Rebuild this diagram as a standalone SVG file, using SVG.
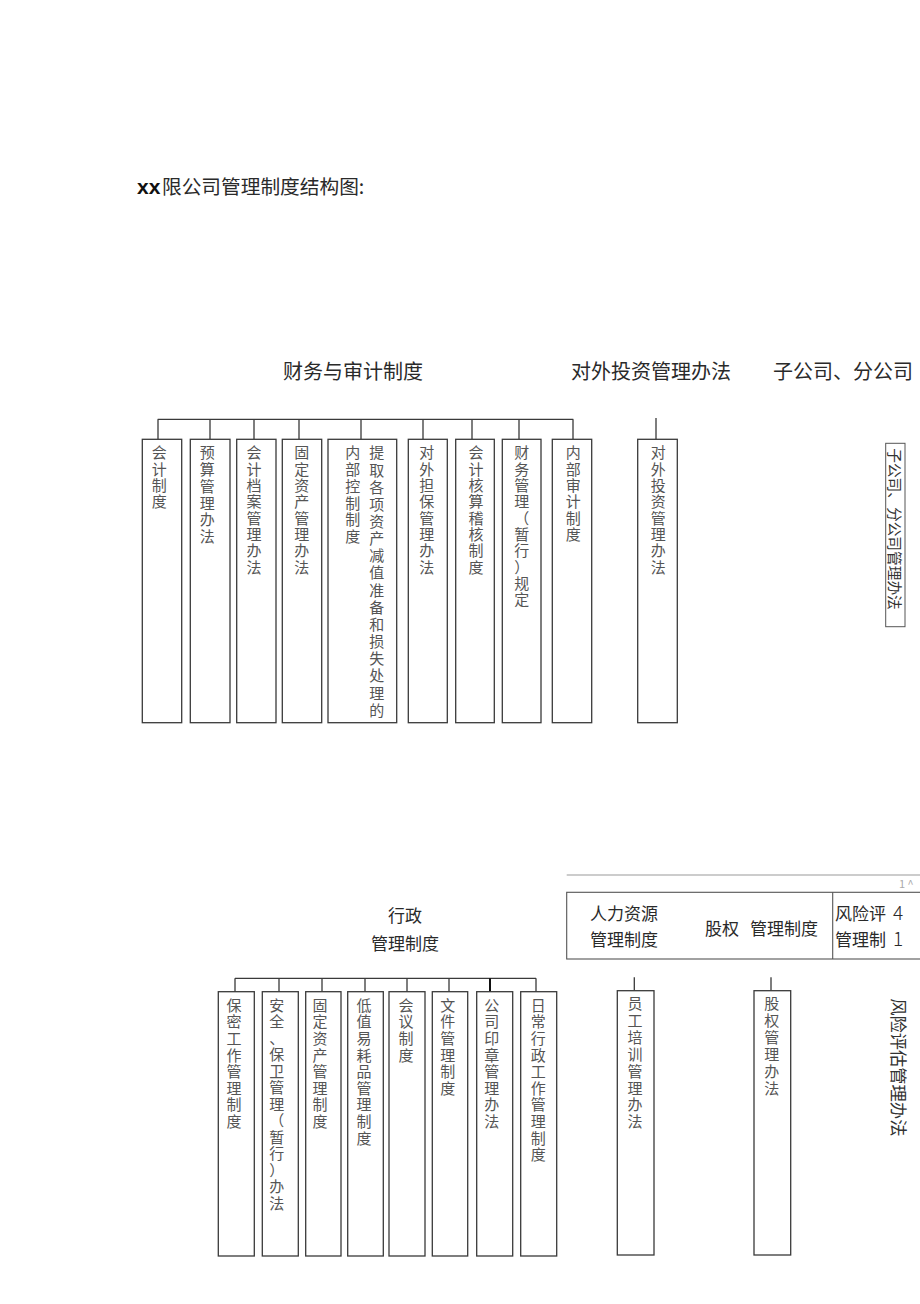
<svg xmlns="http://www.w3.org/2000/svg" width="920" height="1304" viewBox="0 0 920 1304">
<style>
text{font-family:"Noto Sans CJK SC","Liberation Sans",sans-serif;}
.h{font-size:20px;fill:#2a2a2a;}
.m{font-size:17px;fill:#2a2a2a;}
.c{font-size:15px;fill:#555;text-anchor:middle;}
.box{fill:#fff;stroke:#3a3a3a;stroke-width:1.3;}
.con{stroke:#3a3a3a;stroke-width:1.3;fill:none;}
</style>
<rect width="920" height="1304" fill="#fff"/>
<g id="title">
<text x="137" y="194" class="h"><tspan font-family="Liberation Sans" font-weight="bold" font-size="21" fill="#111">xx</tspan><tspan x="162" font-size="19.7">限公司管理制度结构图:</tspan></text>
</g>
<g id="connectors">
<path class="con" d="M157.7 419.3H573.3M158 419.3V439.3M210 419.3V439.3M254 419.3V439.3M299 419.3V439.3M361 419.3V439.3M423 419.3V439.3M472 419.3V439.3M519 419.3V439.3M573 419.3V439.3M656 418V439.3"/>
<path class="con" d="M235 978.3H536M235 978.3V991.7M279 978.3V991.7M322 978.3V991.7M365 978.3V991.7M407 978.3V991.7M449 978.3V991.7M536 978.3V991.7M634.3 977.3V990.7M771 977.3V990.7"/>
<path d="M490 978.3V991.7" stroke="#111" stroke-width="2" fill="none"/>
</g>
<g id="head-finance"><text class="h" x="283" y="379">财务与审计制度</text></g>
<g id="head-invest"><text class="h" x="571" y="379">对外投资管理办法</text></g>
<g id="head-sub"><text class="h" x="773" y="379">子公司、分公司</text></g>
<g id="n1"><rect class="box" x="142.3" y="439.3" width="39.4" height="283.4"/>
<text class="c" x="159.3 159.3 159.3 159.3" y="458.4 474.7 491 507.3">会计制度</text></g>
<g id="n2"><rect class="box" x="190.3" y="439.3" width="39.7" height="283.4"/>
<text class="c" x="207.3 207.3 207.3 207.3 207.3 207.3" y="458.4 475.1 491.8 508.5 525.2 541.9">预算管理办法</text></g>
<g id="n3"><rect class="box" x="236.7" y="439.3" width="39.3" height="283.4"/>
<text class="c" x="254 254 254 254 254 254 254 254" y="458.4 474.7 491 507.3 523.6 539.9 556.2 572.5">会计档案管理办法</text></g>
<g id="n4"><rect class="box" x="282.3" y="439.3" width="39.4" height="283.4"/>
<text class="c" x="301.7 301.7 301.7 301.7 301.7 301.7 301.7 301.7" y="458.4 474.7 491 507.3 523.6 539.9 556.2 572.5">固定资产管理办法</text></g>
<g id="n5"><rect class="box" x="328" y="439.3" width="68.7" height="283.4"/>
<text class="c" x="352.7 352.7 352.7 352.7 352.7 352.7" y="458.4 475.1 491.8 508.5 525.2 541.9">内部控制制度</text>
<text class="c" x="376.7 376.7 376.7 376.7 376.7 376.7 376.7 376.7 376.7 376.7 376.7 376.7 376.7 376.7 376.7 376.7" y="458.4 475.55 492.7 509.85 527 544.15 561.3 578.45 595.6 612.75 629.9 647.05 664.2 681.35 698.5 715.65">提取各项资产减值准备和损失处理的</text></g>
<g id="n6"><rect class="box" x="408.3" y="439.3" width="39" height="283.4"/>
<text class="c" x="426.7 426.7 426.7 426.7 426.7 426.7 426.7 426.7" y="458.4 474.7 491 507.3 523.6 539.9 556.2 572.5">对外担保管理办法</text></g>
<g id="n7"><rect class="box" x="455.7" y="439.3" width="38.6" height="283.4"/>
<text class="c" x="476 476 476 476 476 476 476 476" y="458.4 474.7 491 507.3 523.6 539.9 556.2 572.5">会计核算稽核制度</text></g>
<g id="n8"><rect class="box" x="502.3" y="439.3" width="38.7" height="283.4"/>
<text class="c" x="521.7 521.7 521.7 521.7 521.7 521.7 521.7 521.7 521.7 521.7" y="458.4 474.7 491 507.3 523.6 539.9 556.2 572.5 588.8 605.1">财务管理（暂行）规定</text></g>
<g id="n9"><rect class="box" x="552.3" y="439.3" width="39.4" height="283.4"/>
<text class="c" x="573.3 573.3 573.3 573.3 573.3 573.3" y="458.4 474.7 491 507.3 523.6 539.9">内部审计制度</text></g>
<g id="n10"><rect class="box" x="637.7" y="439.3" width="39.6" height="283.4"/>
<text class="c" x="658.3 658.3 658.3 658.3 658.3 658.3 658.3 658.3" y="458.4 474.7 491 507.3 523.6 539.9 556.2 572.5">对外投资管理办法</text></g>
<g id="n11"><rect x="885.7" y="443.3" width="19.3" height="183.4" fill="#fff" stroke="#555" stroke-width="1"/>
<text transform="translate(889.4,529) rotate(90)" text-anchor="middle" font-size="14.7" fill="#333">子公司、分公司管理办法</text></g>
<g id="header2">
<path d="M566.7 875H920" stroke="#999" stroke-width="1.2" fill="none"/>
<text x="899" y="888" font-size="11" fill="#aaa">1 ^</text>
<rect x="566.7" y="892.3" width="360" height="66.7" fill="#fff" stroke="#555" stroke-width="1.1"/>
<path d="M832.7 892.3V959" stroke="#555" stroke-width="1.1"/>
</g>
<g id="head-hr"><text class="m" x="590" y="919.8">人力资源</text><text class="m" x="590" y="945.5">管理制度</text></g>
<g id="head-equity"><text class="m" x="705" y="934.8">股权<tspan x="750">管理制度</tspan></text></g>
<g id="head-risk"><text class="m" x="835" y="919.8">风险评<tspan x="893" font-size="19" font-weight="300">4</tspan></text><text class="m" x="835" y="945.5">管理制<tspan x="893" font-size="19" font-weight="300">1</tspan></text></g>
<g id="head-admin"><text class="m" x="405" y="921.5" text-anchor="middle">行政</text><text class="m" x="405" y="949.8" text-anchor="middle">管理制度</text></g>
<g id="b1"><rect class="box" x="218.3" y="991.7" width="36" height="264.3"/>
<text class="c" x="234 234 234 234 234 234 234 234" y="1010.7 1027.3 1043.9 1060.5 1077.1 1093.7 1110.3 1126.9">保密工作管理制度</text></g>
<g id="b2"><rect class="box" x="262.3" y="991.7" width="36" height="264.3"/>
<text class="c" x="276.7 276.7 276.7 276.7 276.7 276.7 276.7 276.7 276.7 276.7 276.7 276.7 276.7" y="1010.7 1027.2 1043.7 1060.2 1076.7 1093.2 1109.7 1126.2 1142.7 1159.2 1175.7 1192.2 1208.7">安全、保卫管理（暂行）办法</text></g>
<g id="b3"><rect class="box" x="305.7" y="991.7" width="35.3" height="264.3"/>
<text class="c" x="320 320 320 320 320 320 320 320" y="1010.7 1027.3 1043.9 1060.5 1077.1 1093.7 1110.3 1126.9">固定资产管理制度</text></g>
<g id="b4"><rect class="box" x="347.7" y="991.7" width="35.6" height="264.3"/>
<text class="c" x="364 364 364 364 364 364 364 364 364" y="1010.7 1027.3 1043.9 1060.5 1077.1 1093.7 1110.3 1126.9 1143.5">低值易耗品管理制度</text></g>
<g id="b5"><rect class="box" x="389" y="991.7" width="36" height="264.3"/>
<text class="c" x="406 406 406 406" y="1010.7 1027.3 1043.9 1060.5">会议制度</text></g>
<g id="b6"><rect class="box" x="432.3" y="991.7" width="35.4" height="264.3"/>
<text class="c" x="447.7 447.7 447.7 447.7 447.7 447.7" y="1010.7 1027.3 1043.9 1060.5 1077.1 1093.7">文件管理制度</text></g>
<g id="b7"><rect class="box" x="476.7" y="991.7" width="36" height="264.3"/>
<text class="c" x="491.7 491.7 491.7 491.7 491.7 491.7 491.7 491.7" y="1010.7 1027.3 1043.9 1060.5 1077.1 1093.7 1110.3 1126.9">公司印章管理办法</text></g>
<g id="b8"><rect class="box" x="520.7" y="991.7" width="36" height="264.3"/>
<text class="c" x="538.3 538.3 538.3 538.3 538.3 538.3 538.3 538.3 538.3 538.3" y="1010.7 1027.3 1043.9 1060.5 1077.1 1093.7 1110.3 1126.9 1143.5 1160.1">日常行政工作管理制度</text></g>
<g id="b9"><rect class="box" x="617.3" y="990.7" width="36.7" height="264.3"/>
<text class="c" x="635 635 635 635 635 635 635 635" y="1009 1025.9 1042.8 1059.7 1076.6 1093.5 1110.4 1127.3">员工培训管理办法</text></g>
<g id="b10"><rect class="box" x="754" y="990.7" width="36.7" height="264.3"/>
<text class="c" x="771.7 771.7 771.7 771.7 771.7 771.7" y="1009 1025.9 1042.8 1059.7 1076.6 1093.5">股权管理办法</text></g>
<g id="b11"><text transform="translate(891.7,1067.3) rotate(90)" text-anchor="middle" font-size="17.3" fill="#333">风险评估管理办法</text></g>
</svg>
